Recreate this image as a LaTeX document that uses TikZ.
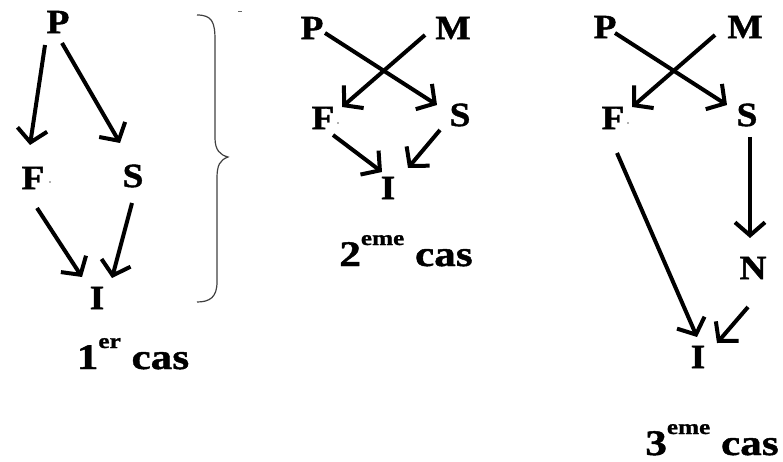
\documentclass[tikz,border=0pt]{standalone}
\usepackage{fontspec}
\setmainfont{Liberation Serif}
\newfontfamily\lblfont{Liberation Serif}[FakeStretch=1.1,BoldFeatures={FakeBold=1.2}]
\newfontfamily\capfont{Liberation Serif}[FakeStretch=1.2,BoldFeatures={FakeBold=1.2}]
\usetikzlibrary{arrows.meta}
\begin{document}
\begin{tikzpicture}[x=1pt,y=-1pt,
  lbl/.style={inner sep=0pt,font=\lblfont\fontsize{34}{34}\selectfont\bfseries},
  captxt/.style={inner sep=0pt,anchor=base,font=\capfont\fontsize{36}{36}\selectfont\bfseries},
  arr/.style={line width=4pt,-{Straight Barb[length=13pt,width=30pt,line width=4pt]}},
  bracestyle/.style={line width=1.2pt,draw=black!75},
  speck/.style={fill=black!60}]
\useasboundingbox (0,0) rectangle (783,462);
\newcommand{\supx}[1]{\raisebox{21pt}{\fontsize{21}{21}\selectfont #1}}
% case 1
\node[lbl] (P1) at (58,22) {P};
\node[lbl] (F1) at (33,178) {F};
\node[lbl] (S1) at (133,176) {S};
\node[lbl] (I1) at (97,298) {I};
\node[captxt] (C1) at (133,369) {1\supx{er} cas};
\fill[speck] (50,182) circle (0.8);
\draw[arr] ([shift={(-13,23)}]P1.center) -- ([shift={(-3,-33)}]F1.center);
\draw[arr] ([shift={(4,21)}]P1.center) -- ([shift={(-13,-33)}]S1.center);
\draw[arr] ([shift={(4,30)}]F1.center) -- ([shift={(-15,-21)}]I1.center);
\draw[arr] ([shift={(-1,27)}]S1.center) -- ([shift={(15,-20)}]I1.center);
\draw[bracestyle] (197,15) .. controls (212,15) and (215,22) .. (215,40)
  -- (215,138) .. controls (215,150) and (220,155) .. (228,157)
  .. controls (220,160) and (217,165) .. (217,178)
  -- (217,282) .. controls (217,297) and (210,302) .. (197,302);
\draw[line width=1pt,draw=black!60] (238,12) -- (242,12);
% case 2
\node[lbl] (P2) at (312,28) {P};
\node[lbl] (M2) at (453,28) {M};
\node[lbl] (F2) at (323,118) {F};
\node[lbl] (S2) at (460,115) {S};
\node[lbl] (I2) at (388,188) {I};
\node[captxt] (C2) at (406,266) {2\supx{eme} cas};
\fill[speck] (338,123) circle (0.8);
\draw[arr] ([shift={(13,5)}]P2.center) -- ([shift={(-23,-10)}]S2.center);
\draw[arr] ([shift={(-28,7)}]M2.center) -- ([shift={(19,-11)}]F2.center);
\draw[arr] ([shift={(10,17)}]F2.center) -- ([shift={(-6,-16)}]I2.center);
\draw[arr] ([shift={(-20,15)}]S2.center) -- ([shift={(20,-20)}]I2.center);
% case 3
\node[lbl] (P3) at (605,27) {P};
\node[lbl] (M3) at (745,27) {M};
\node[lbl] (F3) at (613,118) {F};
\node[lbl] (S3) at (747,115) {S};
\node[lbl] (N3) at (753,268) {N};
\node[lbl] (I3) at (698,357) {I};
\node[captxt] (C3) at (712,455) {3\supx{eme} cas};
\fill[speck] (628,123) circle (0.8);
\draw[arr] ([shift={(10,6)}]P3.center) -- ([shift={(-20,-10)}]S3.center);
\draw[arr] ([shift={(-30,8)}]M3.center) -- ([shift={(19,-11)}]F3.center);
\draw[arr] ([shift={(4,35)}]F3.center) -- ([shift={(-1,-20)}]I3.center);
\draw[arr] ([shift={(3,22)}]S3.center) -- ([shift={(-3,-30)}]N3.center);
\draw[arr] ([shift={(-5,39)}]N3.center) -- ([shift={(19,-14)}]I3.center);
\end{tikzpicture}
\end{document}
